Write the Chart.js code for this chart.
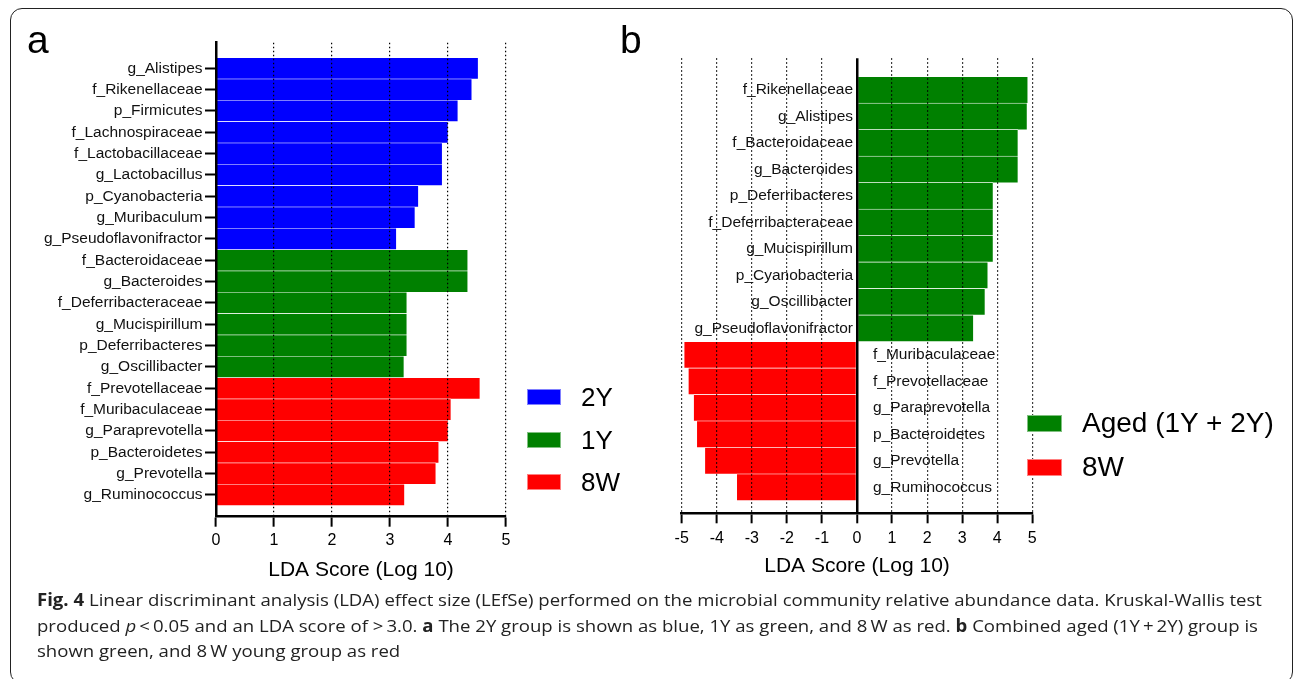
<!DOCTYPE html>
<html>
<head>
<meta charset="utf-8">
<script src="https://cdn.jsdelivr.net/npm/chart.js@4.4.1/dist/chart.umd.min.js"></script>
<style>
  html, body { margin: 0; padding: 0; background: #fff; }
  body { width: 1295px; height: 679px; position: relative; overflow: hidden; font-family: "Liberation Sans", Arial, sans-serif; }
  .frame { position: absolute; left: 10px; top: 8px; width: 1283px; height: 676px; border: 1.5px solid #222; border-radius: 12px; box-sizing: border-box; }
  canvas { position: absolute; top: 0; }
  #chartA { left: 0; }
  #chartB { left: 600px; }
  .panel { position: absolute; font-size: 39px; line-height: 1; color: #000; }
  .legend { position: absolute; }
  .legend .item { display: flex; align-items: center; white-space: nowrap; }
  .legend .box { flex: none; box-sizing: border-box; border: 1px solid rgba(255,255,255,0.5); }
  .caption { position: absolute; left: 37px; top: 587px; font-family: "Open Sans", "Noto Sans", sans-serif; font-size: 17px; line-height: 25.5px; color: #222; transform-origin: 0 0; }
  .caption span { display: block; white-space: nowrap; }
</style>
</head>
<body>
<div class="frame"></div>
<canvas id="chartA" width="560" height="600"></canvas>
<canvas id="chartB" width="695" height="600"></canvas>
<div class="panel" style="left:27px; top:20px;">a</div>
<div class="panel" style="left:620px; top:20px;">b</div>
<div class="legend" id="legendA" style="left:527px; top:376px;"></div>
<div class="legend" id="legendB" style="left:1027px; top:401px;"></div>
<div class="caption" id="caption">
  <span id="capLine1"><b>Fig. 4</b> Linear discriminant analysis (LDA) effect size (LEfSe) performed on the microbial community relative abundance data. Kruskal-Wallis test</span>
  <span>produced <i>p</i>&thinsp;&lt;&thinsp;0.05 and an LDA score of &gt;&thinsp;3.0. <b>a</b> The 2Y group is shown as blue, 1Y as green, and 8&thinsp;W as red. <b>b</b> Combined aged (1Y&thinsp;+&thinsp;2Y) group is</span>
  <span>shown green, and 8&thinsp;W young group as red</span>
</div>
<script>
// ---- panel a data (top to bottom) ----
const labelsA = ['g_Alistipes', 'f_Rikenellaceae', 'p_Firmicutes', 'f_Lachnospiraceae', 'f_Lactobacillaceae',
  'g_Lactobacillus', 'p_Cyanobacteria', 'g_Muribaculum', 'g_Pseudoflavonifractor', 'f_Bacteroidaceae',
  'g_Bacteroides', 'f_Deferribacteraceae', 'g_Mucispirillum', 'p_Deferribacteres', 'g_Oscillibacter',
  'f_Prevotellaceae', 'f_Muribaculaceae', 'g_Paraprevotella', 'p_Bacteroidetes', 'g_Prevotella', 'g_Ruminococcus'];
const scoresA = [4.52, 4.41, 4.17, 4.00, 3.90, 3.90, 3.49, 3.43, 3.11, 4.34, 4.34, 3.29, 3.29, 3.29, 3.24,
  4.55, 4.05, 4.00, 3.84, 3.79, 3.25];
const groupsA = ['2Y', '2Y', '2Y', '2Y', '2Y', '2Y', '2Y', '2Y', '2Y', '1Y', '1Y', '1Y', '1Y', '1Y', '1Y',
  '8W', '8W', '8W', '8W', '8W', '8W'];
const groupNamesA = ['2Y', '1Y', '8W'];
const colorsA = ['#0000ff', '#008000', '#ff0000'];
const xTicksA = [0, 1, 2, 3, 4, 5];

// ---- panel b data (top to bottom) ----
const labelsB = ['f_Rikenellaceae', 'g_Alistipes', 'f_Bacteroidaceae', 'g_Bacteroides', 'p_Deferribacteres',
  'f_Deferribacteraceae', 'g_Mucispirillum', 'p_Cyanobacteria', 'g_Oscillibacter', 'g_Pseudoflavonifractor',
  'f_Muribaculaceae', 'f_Prevotellaceae', 'g_Paraprevotella', 'p_Bacteroidetes', 'g_Prevotella', 'g_Ruminococcus'];
const scoresB = [4.87, 4.85, 4.59, 4.59, 3.88, 3.88, 3.88, 3.73, 3.65, 3.32,
  -4.93, -4.81, -4.66, -4.57, -4.34, -3.43];
const groupsB = ['Aged', 'Aged', 'Aged', 'Aged', 'Aged', 'Aged', 'Aged', 'Aged', 'Aged', 'Aged',
  '8W', '8W', '8W', '8W', '8W', '8W'];
const groupNamesB = ['Aged', '8W'];
const legendNamesB = ['Aged (1Y + 2Y)', '8W'];
const colorsB = ['#008000', '#ff0000'];
const xTicksB = [-5, -4, -3, -2, -1, 0, 1, 2, 3, 4, 5];

const FONT = '"Liberation Sans", Arial, sans-serif';
Chart.defaults.font.family = FONT;
Chart.defaults.color = '#000';

function buildDatasets(labels, scores, groups, names, legendNames, colors) {
    return names.map((g, k) => ({
        label: legendNames[k],
        backgroundColor: colors[k],
        borderColor: 'rgba(255,255,255,0.85)',
        borderWidth: 0.6,
        barPercentage: 1,
        categoryPercentage: 1,
        grouped: false,
        data: scores.map((v, i) => groups[i] === g ? { x: v, y: i } : null).filter(Boolean)
    }));
}

// integer ticks only, one per row
function rowTicks(labels) {
    return function (scale) {
        scale.ticks = labels.map((_, i) => ({ value: i }));
    };
}

function dotted(ctx) {
    return (ctx.tick && ctx.tick.value === 0) ? [] : [1.5, 2.5];
}

// ---- panel a ----
const chartA = new Chart(document.getElementById('chartA'), {
    type: 'bar',
    data: { datasets: buildDatasets(labelsA, scoresA, groupsA, groupNamesA, groupNamesA, colorsA) },
    options: {
        indexAxis: 'y',
        responsive: false,
        animation: false,
        devicePixelRatio: 1,
        layout: { padding: { top: 42.7, right: 54, bottom: 17.3, left: 0 } },
        plugins: { legend: { display: false }, tooltip: { enabled: false } },
        scales: {
            x: {
                type: 'linear',
                min: 0,
                max: 5,
                afterBuildTicks: (s) => { s.ticks = xTicksA.map(v => ({ value: v })); },
                afterFit: (s) => { s.height = 66; },
                ticks: { font: { size: 16 }, padding: 4, color: '#000' },
                grid: {
                    z: 1,
                    color: (c) => (c.tick && c.tick.value === 0) ? 'rgba(0,0,0,0)' : '#000',
                    lineWidth: 1.2,
                    tickLength: 10,
                    tickWidth: 2,
                    tickColor: '#000'
                },
                border: { display: true, color: '#000', width: 2.5, z: 1, dash: dotted },
                title: { display: true, text: 'LDA Score (Log 10)', font: { size: 21 }, color: '#000', padding: { top: 0, bottom: 0 } }
            },
            y: {
                type: 'linear',
                reverse: true,
                offset: false,
                min: -1.2,
                max: 21.02,
                afterBuildTicks: rowTicks(labelsA),
                afterFit: (s) => { s.width = 216; },
                ticks: {
                    autoSkip: false,
                    font: { size: 15.5 },
                    color: '#111',
                    padding: 2.5,
                    callback: (v) => labelsA[v]
                },
                grid: { offset: false, drawOnChartArea: false, drawTicks: true, tickLength: 11, tickWidth: 2, tickColor: '#000' },
                border: { display: true, color: '#000', width: 2.5, z: 1 }
            }
        }
    }
});

// ---- panel b: labels sit beside the zero line ----
const sideLabels = {
    id: 'sideLabels',
    afterDraw(chart) {
        const { ctx, scales: { x, y } } = chart;
        const zero = x.getPixelForValue(0);
        ctx.save();
        ctx.font = '15.5px ' + FONT;
        ctx.fillStyle = '#111';
        ctx.textBaseline = 'middle';
        labelsB.forEach((lab, i) => {
            const py = y.getPixelForValue(i);
            if (scoresB[i] >= 0) {
                ctx.textAlign = 'right';
                ctx.fillText(lab, zero - 4, py);
            } else {
                ctx.textAlign = 'left';
                ctx.fillText(lab, zero + 16, py);
            }
        });
        ctx.restore();
    }
};

const chartB = new Chart(document.getElementById('chartB'), {
    type: 'bar',
    data: { datasets: buildDatasets(labelsB, scoresB, groupsB, groupNamesB, legendNamesB, colorsB) },
    plugins: [sideLabels],
    options: {
        indexAxis: 'y',
        responsive: false,
        animation: false,
        devicePixelRatio: 1,
        layout: { padding: { top: 58.3, right: 262.7, bottom: 20.7, left: 81.7 } },
        plugins: { legend: { display: false }, tooltip: { enabled: false } },
        scales: {
            x: {
                type: 'linear',
                min: -5,
                max: 5,
                afterBuildTicks: (s) => { s.ticks = xTicksB.map(v => ({ value: v })); },
                afterFit: (s) => { s.height = 66; },
                ticks: { font: { size: 16 }, padding: 6, color: '#000' },
                grid: {
                    z: 1,
                    color: '#000',
                    lineWidth: (c) => (c.tick && c.tick.value === 0) ? 2.5 : 1.2,
                    tickLength: 10,
                    tickWidth: 2,
                    tickColor: '#000'
                },
                border: { display: true, color: '#000', width: 2.5, z: 1, dash: dotted },
                title: { display: true, text: 'LDA Score (Log 10)', font: { size: 21 }, color: '#000', padding: { top: 0, bottom: 0 } }
            },
            y: {
                type: 'linear',
                display: false,
                reverse: true,
                offset: false,
                min: -1.194,
                max: 15.98,
                afterBuildTicks: rowTicks(labelsB),
                grid: { offset: false }
            }
        }
    }
});

// ---- HTML legends built from the chart datasets ----
function buildLegend(chart, el, opts) {
    chart.data.datasets.forEach(ds => {
        const item = document.createElement('div');
        item.className = 'item';
        item.style.height = opts.rowHeight + 'px';
        const box = document.createElement('div');
        box.className = 'box';
        box.style.width = opts.boxW + 'px';
        box.style.height = opts.boxH + 'px';
        box.style.background = ds.backgroundColor;
        const txt = document.createElement('div');
        txt.textContent = ds.label;
        txt.style.fontSize = opts.fontSize + 'px';
        txt.style.lineHeight = '1';
        txt.style.marginLeft = opts.gap + 'px';
        item.appendChild(box);
        item.appendChild(txt);
        el.appendChild(item);
    });
}
buildLegend(chartA, document.getElementById('legendA'), { rowHeight: 42.5, boxW: 34, boxH: 16, fontSize: 26, gap: 20 });
buildLegend(chartB, document.getElementById('legendB'), { rowHeight: 44.3, boxW: 35, boxH: 17, fontSize: 28, gap: 20 });

// squeeze caption to the reference line length
const cap = document.getElementById('caption');
const w1 = document.getElementById('capLine1').getBoundingClientRect().width;
cap.style.transform = 'scaleX(' + (1225 / w1) + ')';
</script>
</body>
</html>
